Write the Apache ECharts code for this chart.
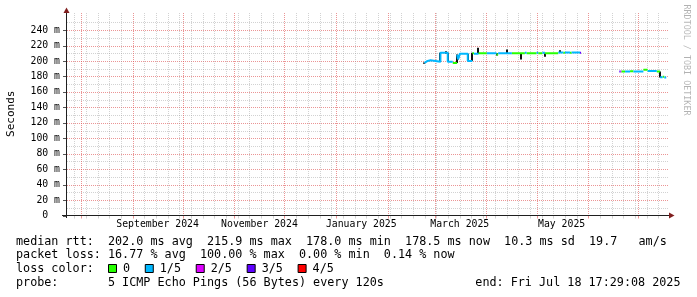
<!DOCTYPE html>
<html><head><meta charset="utf-8">
<script src="https://cdn.jsdelivr.net/npm/echarts@6/dist/echarts.min.js"></script>
<style>html,body{margin:0;padding:0;background:#fff}#c{width:697px;height:297px}</style>
</head><body><div id="c"></div>
<script>
// ---------- data ----------
const endTime = '2025-07-18T17:29:08';
const spanDays = 360;
const yMaxMs = 259.5;
const yTicks = [0, 20, 40, 60, 80, 100, 120, 140, 160, 180, 200, 220, 240];
const xLabelMonths = ['2024-09', '2024-11', '2025-01', '2025-03', '2025-05'];
const monthNames = ['January','February','March','April','May','June','July','August','September','October','November','December'];
const lossLabels = ['0', '1/5', '2/5', '3/5', '4/5'];
const lossColors = ['#26ff00', '#00b8ff', '#dd00ff', '#5e00ff', '#ff0000'];

// median rtt samples (ms): each holds from its time until the next sample's time
const sampleTimes = [
  '2025-02-22T20:00','2025-02-23T18:00','2025-02-24T18:00','2025-02-26T12:00','2025-03-04T10:00',
  '2025-03-08T19:00','2025-03-11T19:00','2025-03-14T10:00','2025-03-14T22:00','2025-03-15T12:00',
  '2025-03-16T00:00','2025-03-20T19:00','2025-03-23T14:00','2025-03-24T12:00','2025-03-27T05:00',
  '2025-04-01T05:00','2025-04-07T00:00','2025-04-08T00:00','2025-04-16T05:00','2025-04-24T00:00',
  '2025-04-25T00:00','2025-05-01T00:00','2025-05-02T00:00','2025-05-04T12:00','2025-05-06T00:00',
  '2025-05-14T00:00','2025-05-17T00:00','2025-05-18T00:00','2025-05-21T00:00','2025-05-22T00:00',
  '2025-05-27T00:00','2025-05-27T16:00',
  '2025-06-19T14:00','2025-06-20T04:00','2025-06-20T18:00','2025-06-23T00:00','2025-06-26T00:00',
  '2025-06-28T00:00','2025-07-04T00:00','2025-07-06T12:00','2025-07-12T00:00','2025-07-14T00:00',
  '2025-07-15T12:00','2025-07-16T12:00','2025-07-17T16:00'
];
const medianRtt = [
  197.5, 200.0, 201.0, 199.0, 210.5,
  199.0, 197.5, 208.0, 202.0, 205.0,
  209.5, 200.0, 210.0, 209.5, 210.0,
  210.0, 208.5, 210.0, 210.0, 210.5,
  210.0, 210.5, 210.0, 210.5, 210.0,
  211.0, 210.8, 211.0, 210.5, 211.0,
  210.5, null,
  186.5, 186.5, 186.5, 186.5, 186.8,
  186.5, 188.5, 187.0, 186.5, 179.0,
  179.5, 178.5, null
];
const lossLevel = [
  1, 1, 1, 1, 1,
  1, 0, 1, 1, 1,
  1, 1, 0, 1, 0,
  1, 0, 1, 0, 1,
  0, 1, 0, 1, 0,
  1, 0, 1, 0, 1,
  3, null,
  3, 2, 0, 1, 0,
  1, 0, 1, 0, 1,
  0, 1, null
];
// dark vertical strokes (smoke spread) at jumps
const spikeTimes = ['2025-02-22T20:00','2025-03-04T10:00','2025-03-07T20:00','2025-03-08T19:00','2025-03-14T10:00',
  '2025-03-15T00:00','2025-03-20T19:00','2025-03-23T14:00','2025-03-27T05:00','2025-04-07T00:00',
  '2025-04-13T12:00','2025-04-21T10:00','2025-05-06T00:00','2025-05-15T00:00','2025-07-14T00:00'];
const spikeLow  = [196.5, 199.0, 209.5, 199.0, 197.5, 202.0, 200.0, 200.0, 209.5, 207.0, 210.0, 202.0, 205.5, 210.5, 178.5];
const spikeHigh = [198.0, 210.7, 212.5, 210.7, 208.5, 207.5, 209.5, 210.5, 217.0, 210.0, 215.0, 210.0, 210.0, 214.0, 186.5];

const statLines = [
  'median rtt:  202.0 ms avg  215.9 ms max  178.0 ms min  178.5 ms now  10.3 ms sd  19.7   am/s',
  'packet loss: 16.77 % avg  100.00 % max  0.00 % min  0.14 % now',
  'loss color:'
];
const probeText = 'probe:       5 ICMP Echo Pings (56 Bytes) every 120s';
const endText = 'end: Fri Jul 18 17:29:08 2025';
const yAxisTitle = 'Seconds';
const watermark = 'RRDTOOL / TOBI OETIKER';

// ---------- build ----------
const T = s => Date.parse(s + 'Z');
const DAY = 86400000;
const endMs = T(endTime);
const startMs = endMs - spanDays * DAY;

const GRID = 'rgba(143,143,143,0.4)';
const MGRID = 'rgba(222,79,79,0.6)';
const AXIS = '#1f1f1f';
const ARROW = '#801f1f';
const MONO = '"DejaVu Sans Mono", monospace';

const monthLines = [];
{
  const d = new Date(startMs);
  let y = d.getUTCFullYear(), m = d.getUTCMonth() + 1;
  for (;;) {
    const t = Date.UTC(y, m, 1);
    if (t > endMs) break;
    monthLines.push(t);
    m++;
  }
}
const weekLines = [];
{
  const d = new Date(startMs);
  let t = Date.UTC(d.getUTCFullYear(), d.getUTCMonth(), d.getUTCDate());
  while (new Date(t).getUTCDay() !== 0 || t < startMs) t += DAY;
  for (; t <= endMs; t += 7 * DAY) if (!monthLines.includes(t)) weekLines.push(t);
}
const vgridData = weekLines.map(t => [t, 0]).concat(monthLines.map(t => [t, 1]));
const hgridData = [];
for (let v = 10; v < yMaxMs; v += 10) hgridData.push([startMs, v, yTicks.includes(v) ? 1 : 0]);

const labelData = xLabelMonths.map((s, i) => [Date.UTC(+s.slice(0, 4), +s.slice(5, 7) - 1, 16), 0, i]);

const times = sampleTimes.map(T);
const lineSeries = lossColors.map((col, k) => {
  const data = [];
  let prevIdx = -2;
  for (let i = 0; i < times.length - 1; i++) {
    if (medianRtt[i] == null || lossLevel[i] !== k) continue;
    if (prevIdx !== i - 1 && data.length) data.push([times[i], null]);
    data.push([times[i], medianRtt[i]], [times[i + 1], medianRtt[i]]);
    prevIdx = i;
  }
  return {
    name: lossLabels[k], type: 'line', data, showSymbol: false, symbol: 'none',
    connectNulls: false, lineStyle: { color: col, width: 2 }, z: 5, silent: true, animation: false
  };
});

const spikeData = spikeTimes.map((s, i) => [T(s), spikeLow[i], spikeHigh[i]]);

const chart = echarts.init(document.getElementById('c'), null, { renderer: 'canvas' });

const textFont = '11.75px ' + MONO;
const graphics = [];
graphics.push({ type: 'line', z: 50, shape: { x1: 62, y1: 215.5, x2: 670, y2: 215.5 }, style: { stroke: AXIS, lineWidth: 1 } });
graphics.push({ type: 'line', z: 50, shape: { x1: 66.5, y1: 218, x2: 66.5, y2: 12 }, style: { stroke: AXIS, lineWidth: 1 } });
graphics.push({ type: 'polygon', z: 51, shape: { points: [[63.5, 13], [69.5, 13], [66.5, 7.5]] }, style: { fill: ARROW } });
graphics.push({ type: 'polygon', z: 51, shape: { points: [[669, 212.5], [669, 218.5], [674.5, 215.5]] }, style: { fill: ARROW } });
graphics.push({ type: 'text', x: 11, y: 113.7, rotation: Math.PI / 2, style: { text: yAxisTitle, font: '11px ' + MONO, fill: '#000', align: 'center', verticalAlign: 'middle' } });
graphics.push({ type: 'text', x: 686.5, y: 60, rotation: -Math.PI / 2, style: { text: watermark, font: '8.4px ' + MONO, fill: 'rgba(0,0,0,0.3)', align: 'center', verticalAlign: 'middle' } });
const rowY = [241.7, 255, 269.3, 283.3];
statLines.forEach((s, i) => graphics.push({ type: 'text', x: 16, y: rowY[i], style: { text: s, font: textFont, fill: '#000', align: 'left', verticalAlign: 'middle' } }));
graphics.push({ type: 'text', x: 16, y: rowY[3], style: { text: probeText, font: textFont, fill: '#000', align: 'left', verticalAlign: 'middle' } });
graphics.push({ type: 'text', x: 680.5, y: rowY[3], style: { text: endText, font: textFont, fill: '#000', align: 'right', verticalAlign: 'middle' } });
{
  let x = 108;
  const cw = 7.08;
  lossLabels.forEach((lab, k) => {
    graphics.push({ type: 'rect', shape: { x: x + 0.5, y: 264.5, width: 8, height: 8 }, style: { fill: lossColors[k], stroke: '#000', lineWidth: 1 } });
    graphics.push({ type: 'text', x: x + 15, y: rowY[2], style: { text: lab, font: textFont, fill: '#000', align: 'left', verticalAlign: 'middle' } });
    x += 15 + lab.length * cw + 14.7;
  });
}

chart.setOption({
  animation: false,
  useUTC: true,
  backgroundColor: '#ffffff',
  grid: { left: 67, right: 29, top: 15, bottom: 81.5, containLabel: false },
  xAxis: {
    type: 'time', min: startMs, max: endMs,
    axisLine: { show: false }, axisTick: { show: false }, splitLine: { show: false },
    axisLabel: { show: false }
  },
  yAxis: {
    type: 'value', min: 0, max: yMaxMs, interval: 20,
    axisLine: { show: false }, axisTick: { show: false }, splitLine: { show: false },
    axisLabel: {
      margin: 7, color: '#000', fontFamily: MONO, fontSize: 9.8, showMaxLabel: false,
      formatter: v => yTicks.includes(v) ? (v === 0 ? '0  ' : v + ' m') : ''
    }
  },
  graphic: graphics,
  series: [
    {
      type: 'custom', name: 'hgrid', data: hgridData, silent: true, clip: false, z: 0, animation: false,
      renderItem: (params, api) => {
        const cs = params.coordSys;
        const y = Math.round(api.coord([startMs, api.value(1)])[1]) + 0.5;
        const major = api.value(2) === 1;
        return { type: 'line', shape: { x1: cs.x, y1: y, x2: cs.x + cs.width, y2: y }, style: { stroke: major ? MGRID : GRID, lineWidth: 1, lineDash: [1, 1] } };
      }
    },
    {
      type: 'custom', name: 'yticks', data: yTicks.map(v => [startMs, v]), silent: true, clip: false, z: 40, animation: false,
      renderItem: (params, api) => {
        const y = Math.round(api.coord([startMs, api.value(1)])[1]) + 0.5;
        return { type: 'line', shape: { x1: 63, y1: y, x2: 66, y2: y }, style: { stroke: '#555', lineWidth: 1 } };
      }
    },
    {
      type: 'custom', name: 'vgrid', data: vgridData, silent: true, clip: false, z: 0, animation: false,
      renderItem: (params, api) => {
        const cs = params.coordSys;
        const x = Math.round(api.coord([api.value(0), 0])[0]) + 0.5;
        const col = api.value(1) === 1 ? MGRID : GRID;
        return {
          type: 'group', children: [
            { type: 'line', shape: { x1: x, y1: cs.y - 2, x2: x, y2: cs.y + cs.height }, style: { stroke: col, lineWidth: 1, lineDash: [1, 1] } },
            { type: 'line', shape: { x1: x, y1: cs.y + cs.height, x2: x, y2: cs.y + cs.height + 3 }, style: { stroke: col, lineWidth: 1 } }
          ]
        };
      }
    },
    {
      type: 'custom', name: 'xlabels', data: labelData, silent: true, clip: false, z: 40, animation: false,
      renderItem: (params, api) => {
        const t = api.value(0);
        const p = api.coord([t, 0]);
        const d = new Date(t);
        return { type: 'text', x: p[0], y: p[1] + 9.3, style: { text: monthNames[d.getUTCMonth()] + ' ' + d.getUTCFullYear(), font: '9.8px ' + MONO, fill: '#000', align: 'center', verticalAlign: 'middle' } };
      }
    },
    {
      type: 'custom', name: 'smoke', data: spikeData, silent: true, clip: false, z: 3, animation: false,
      renderItem: (params, api) => {
        const t = api.value(0);
        const p0 = api.coord([t, api.value(1)]);
        const p1 = api.coord([t, api.value(2)]);
        const x = Math.round(p0[0]);
        return { type: 'line', shape: { x1: x, y1: p0[1], x2: x, y2: p1[1] }, style: { stroke: '#111', lineWidth: 2 } };
      }
    }
  ].concat(lineSeries)
});
</script></body></html>
